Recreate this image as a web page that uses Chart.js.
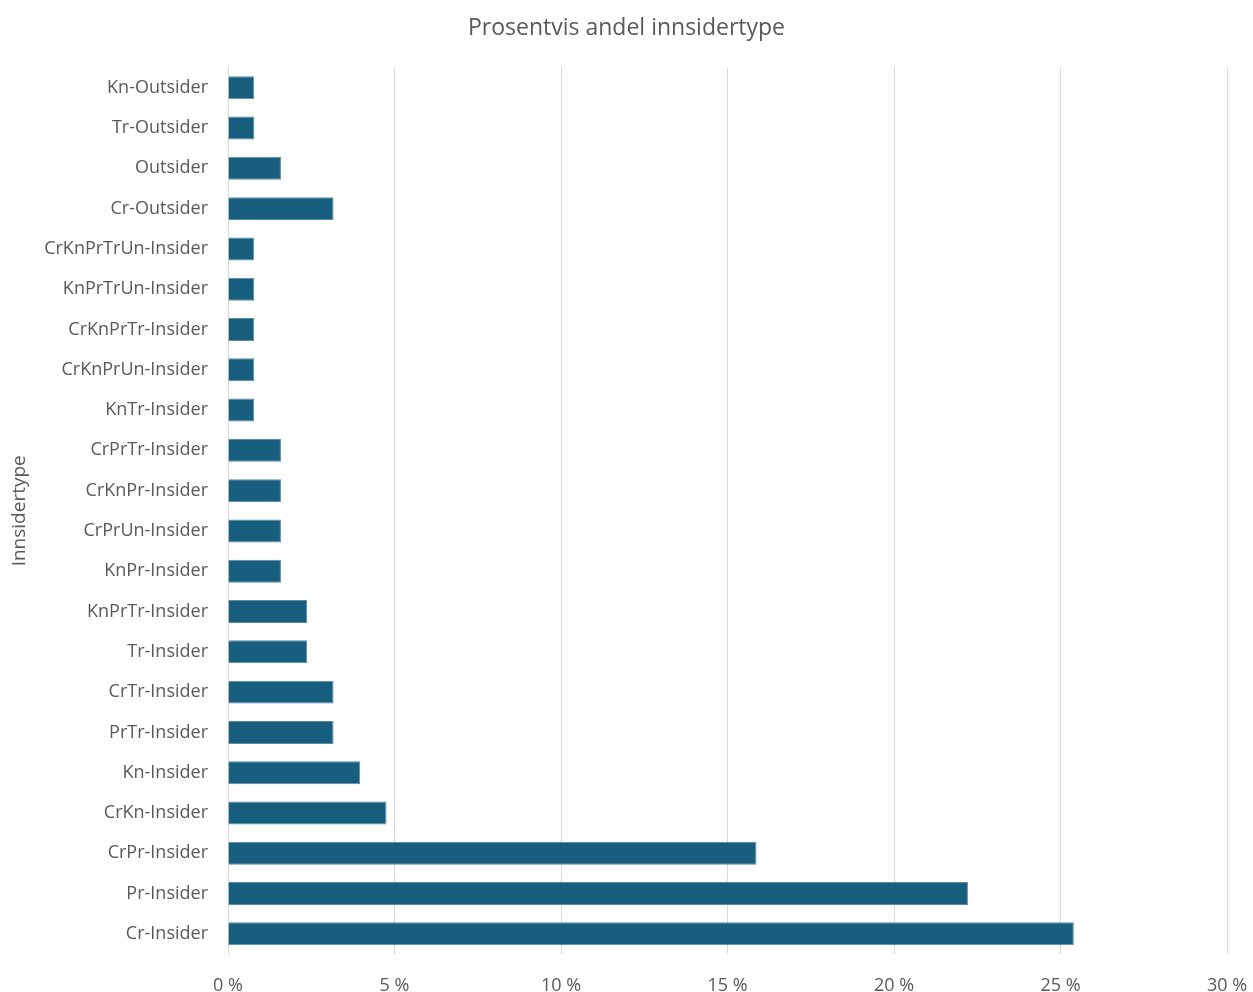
<!DOCTYPE html>
<html>
<head>
<meta charset="utf-8">
<script src="https://cdn.jsdelivr.net/npm/chart.js@4"></script>
<style>
  html, body { margin: 0; padding: 0; background: #fff; }
  #wrap { width: 1253px; height: 992px; }
</style>
</head>
<body>
<div id="wrap"><canvas id="insider-chart" width="1253" height="992"></canvas></div>
<script>
// categories, top to bottom as in the picture
var categories = [
    "Kn-Outsider", "Tr-Outsider", "Outsider", "Cr-Outsider",
    "CrKnPrTrUn-Insider", "KnPrTrUn-Insider", "CrKnPrTr-Insider", "CrKnPrUn-Insider",
    "KnTr-Insider", "CrPrTr-Insider", "CrKnPr-Insider", "CrPrUn-Insider",
    "KnPr-Insider", "KnPrTr-Insider", "Tr-Insider", "CrTr-Insider",
    "PrTr-Insider", "Kn-Insider", "CrKn-Insider", "CrPr-Insider",
    "Pr-Insider", "Cr-Insider"
];
// share in percent
var shares = [
    0.79, 0.79, 1.59, 3.17,
    0.79, 0.79, 0.79, 0.79,
    0.79, 1.59, 1.59, 1.59,
    1.59, 2.38, 2.38, 3.17,
    3.17, 3.97, 4.76, 15.87,
    22.22, 25.40
];
var xTicks = [0, 5, 10, 15, 20, 25, 30];

var textColor = '#595959';
var fontFamily = "'Open Sans', sans-serif";

var ctx = document.getElementById('insider-chart').getContext('2d');
var chart = new Chart(ctx, {
    type: 'bar',
    data: {
        labels: categories,
        datasets: [{
            label: 'Prosentvis andel',
            data: shares,
            backgroundColor: '#175e7f',
            borderColor: '#5b8aa3',
            borderWidth: 1,
            barPercentage: 0.57,
            categoryPercentage: 1.0
        }]
    },
    options: {
        indexAxis: 'y',
        responsive: false,
        animation: false,
        // symmetric side padding keeps the title centred on the page
        layout: { padding: { top: 0, right: 26, bottom: 0, left: 26 } },
        plugins: {
            legend: { display: false },
            tooltip: { enabled: false },
            title: {
                display: true,
                text: 'Prosentvis andel innsidertype',
                color: textColor,
                font: { family: fontFamily, size: 23, weight: 'normal' },
                padding: { top: 15, bottom: 25 }
            }
        },
        scales: {
            x: {
                min: 0,
                max: 30,
                afterBuildTicks: function (scale) {
                    scale.ticks = xTicks.map(function (v) { return { value: v }; });
                },
                afterFit: function (scale) {
                    scale.height = 38;
                    scale.paddingLeft = 0;
                    scale.paddingRight = 0;
                },
                ticks: {
                    color: textColor,
                    font: { family: fontFamily, size: 18 },
                    padding: 21,
                    maxRotation: 0,
                    callback: function (v) { return v + ' %'; }
                },
                grid: { color: '#d9d9d9', lineWidth: 1, drawTicks: false },
                border: { display: false }
            },
            y: {
                afterFit: function (scale) { scale.width = 202; },
                title: {
                    display: true,
                    text: 'Innsidertype',
                    color: textColor,
                    font: { family: fontFamily, size: 19 },
                    padding: { top: -18, bottom: 0 }
                },
                ticks: {
                    color: textColor,
                    font: { family: fontFamily, size: 18 },
                    padding: 20,
                    autoSkip: false
                },
                grid: { display: false, drawTicks: false },
                border: { display: true, color: '#d9d9d9', width: 1 }
            }
        }
    }
});
</script>
</body>
</html>
